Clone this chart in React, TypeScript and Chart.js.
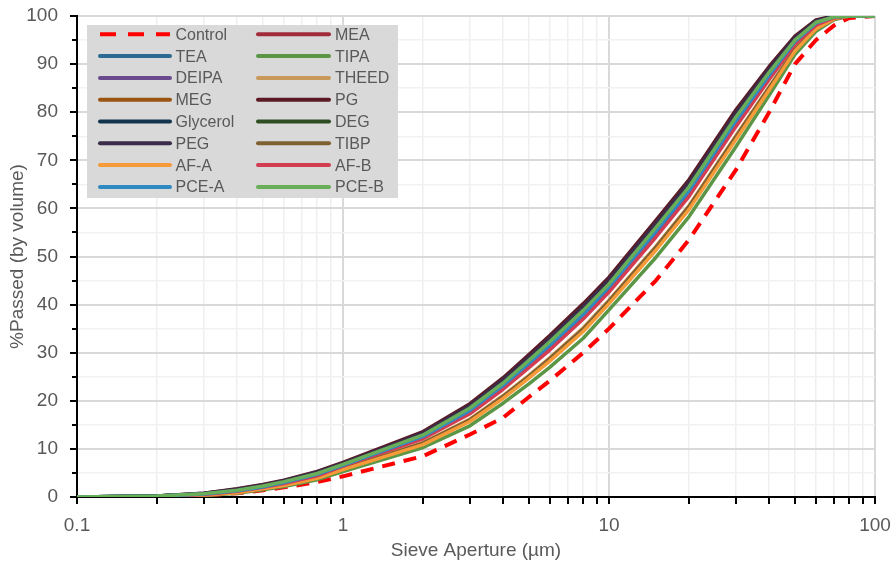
import React, { useEffect, useRef } from "react";
import { Chart, registerables } from "chart.js";

Chart.register(...registerables);

const SIZES = [0.1, 0.2, 0.3, 0.4, 0.5, 0.6, 0.8, 1, 2, 3, 4, 5, 6, 8, 10, 15, 20, 30, 40, 50, 60, 70, 80, 100];

const CONTROL = [0, 0, 0.3, 0.8, 1.4, 2.0, 3.1, 4.3, 8.5, 13.0, 16.5, 20.8, 24.2, 30.0, 35.0, 45.0, 53.5, 68.0, 80.0, 90.0, 95.0, 98.0, 99.6, 100];
const MEA = [0, 0.1, 0.5, 1.2, 2.0, 2.9, 4.5, 6.4, 12.3, 17.6, 22.7, 27.2, 31.0, 37.3, 43.0, 54.4, 62.9, 77.4, 87.1, 94.3, 98.2, 99.7, 100, 100];
const TEA = [0, 0.2, 0.6, 1.3, 2.2, 3.0, 4.7, 6.7, 12.7, 18.1, 23.3, 27.9, 31.8, 38.2, 43.8, 55.3, 63.8, 78.3, 87.8, 94.7, 98.5, 99.8, 100, 100];
const TIPA = [0, 0.05, 0.3, 0.8, 1.5, 2.2, 3.6, 5.3, 10.3, 14.8, 19.5, 23.5, 27.0, 33.0, 38.9, 49.8, 58.3, 72.8, 83.5, 92.0, 96.8, 99.2, 100, 100];
const DEIPA = [0, 0.1, 0.6, 1.3, 2.1, 2.9, 4.6, 6.6, 12.5, 17.8, 23.0, 27.5, 31.4, 37.8, 43.4, 54.9, 63.4, 77.9, 87.5, 94.5, 98.4, 99.7, 100, 100];
const THEED = [0, 0.1, 0.4, 1.0, 1.8, 2.5, 4.1, 5.9, 11.3, 16.2, 21.1, 25.3, 29.0, 35.2, 40.9, 52.1, 60.6, 75.1, 85.3, 93.1, 97.5, 99.4, 100, 100];
const MEG = [0, 0.1, 0.4, 1.0, 1.7, 2.5, 4.0, 5.8, 11.1, 16.0, 20.8, 25.0, 28.7, 34.8, 40.6, 51.7, 60.2, 74.7, 85.0, 92.9, 97.4, 99.4, 100, 100];
const PG = [0, 0.2, 0.8, 1.7, 2.6, 3.5, 5.3, 7.2, 13.6, 19.4, 24.8, 29.6, 33.6, 40.2, 45.7, 57.5, 66.0, 80.5, 89.5, 95.8, 99.2, 100, 100, 100];
const GLYCEROL = [0, 0.2, 0.7, 1.5, 2.4, 3.3, 5.0, 6.9, 13.1, 18.8, 24.1, 28.7, 32.7, 39.2, 44.8, 56.4, 64.9, 79.4, 88.7, 95.3, 98.9, 99.9, 100, 100];
const DEG = [0, 0.2, 0.6, 1.4, 2.3, 3.2, 4.9, 6.9, 13.0, 18.6, 23.9, 28.6, 32.5, 39.0, 44.5, 56.2, 64.7, 79.2, 88.5, 95.2, 98.8, 99.9, 100, 100];
const PEG = [0, 0.2, 0.8, 1.6, 2.5, 3.4, 5.2, 7.0, 13.3, 19.0, 24.4, 29.1, 33.1, 39.6, 45.2, 56.9, 65.4, 79.9, 89.0, 95.5, 99.0, 99.9, 100, 100];
const TIBP = [0, 0.1, 0.4, 1.0, 1.7, 2.5, 4.0, 5.8, 11.2, 16.0, 20.9, 25.1, 28.8, 34.9, 40.7, 51.9, 60.4, 74.9, 85.1, 93.0, 97.4, 99.4, 100, 100];
const AF_A = [0, 0.1, 0.4, 0.9, 1.7, 2.4, 3.9, 5.7, 10.9, 15.7, 20.5, 24.7, 28.3, 34.4, 40.2, 51.3, 59.8, 74.3, 84.6, 92.7, 97.3, 99.4, 100, 100];
const AF_B = [0, 0.1, 0.5, 1.2, 2.0, 2.8, 4.4, 6.4, 12.1, 17.3, 22.4, 26.9, 30.6, 37.0, 42.6, 54.0, 62.5, 77.0, 86.8, 94.1, 98.1, 99.6, 100, 100];
const PCE_A = [0, 0.2, 0.6, 1.3, 2.1, 3.0, 4.7, 6.6, 12.6, 18.0, 23.2, 27.8, 31.6, 38.0, 43.7, 55.2, 63.7, 78.2, 87.7, 94.7, 98.5, 99.8, 100, 100];
const PCE_B = [0, 0.2, 0.7, 1.4, 2.3, 3.2, 4.9, 6.8, 12.9, 18.5, 23.7, 28.4, 32.3, 38.8, 44.3, 56.0, 64.5, 79.0, 88.3, 95.0, 98.7, 99.8, 100, 100];

const NAMES = ["Control", "MEA", "TEA", "TIPA", "DEIPA", "THEED", "MEG", "PG", "Glycerol", "DEG", "PEG", "TIBP", "AF-A", "AF-B", "PCE-A", "PCE-B"];
const VALUES = [CONTROL, MEA, TEA, TIPA, DEIPA, THEED, MEG, PG, GLYCEROL, DEG, PEG, TIBP, AF_A, AF_B, PCE_A, PCE_B];
const COLORS = ["#FF0000", "#A02B3B", "#2C6A93", "#5A9646", "#6A4B8E", "#C9995B", "#9B5412", "#5C1B24", "#12344C", "#2F4E24", "#3B2C49", "#7E6031", "#F79A38", "#D33D52", "#2F89C3", "#69AE59"];

const X_TICKS = [0.1, 0.2, 0.3, 0.4, 0.5, 0.6, 0.7, 0.8, 0.9, 1, 2, 3, 4, 5, 6, 7, 8, 9, 10, 20, 30, 40, 50, 60, 70, 80, 90, 100];
const X_LABELS = [0.1, 1, 10, 100];

const FONT = "'Liberation Sans', Arial, sans-serif";
const TEXT = "#595959";

function isDecade(v: number) {
  return X_LABELS.some((d) => Math.abs(d - v) < 1e-9);
}

function zeroPad(scale: any) {
  scale.paddingTop = 0;
  scale.paddingBottom = 0;
  scale.paddingLeft = 0;
  scale.paddingRight = 0;
}

const decorPlugin = {
  id: "decor",
  afterDraw(chart: any) {
    const ctx = chart.ctx;
    const xs = chart.scales.x;
    const ys = chart.scales.y;
    const area = chart.chartArea;
    ctx.save();
    ctx.strokeStyle = "#000";
    ctx.lineWidth = 2;
    for (let v = 0; v <= 100; v += 5) {
      const y = Math.round(ys.getPixelForValue(v));
      const len = v % 10 === 0 ? 7 : 5;
      ctx.beginPath();
      ctx.moveTo(area.left - len, y);
      ctx.lineTo(area.left, y);
      ctx.stroke();
    }
    for (const v of X_TICKS) {
      const x = Math.round(xs.getPixelForValue(v));
      ctx.beginPath();
      ctx.moveTo(x, area.bottom);
      ctx.lineTo(x, area.bottom + 7);
      ctx.stroke();
    }
    const bx = 87, by = 25, bw = 311, bh = 173;
    ctx.fillStyle = "#D9D9D9";
    ctx.fillRect(bx, by, bw, bh);
    ctx.font = "16px " + FONT;
    ctx.textBaseline = "middle";
    ctx.textAlign = "left";
    NAMES.forEach((name, i) => {
      const col = i % 2;
      const row = Math.floor(i / 2);
      const y = 34.3 + row * 21.8;
      const x0 = col === 0 ? 100 : 258;
      const x1 = col === 0 ? 170 : 329;
      const tx = col === 0 ? 175.5 : 335;
      ctx.strokeStyle = COLORS[i];
      ctx.lineWidth = 4;
      if (i === 0) {
        ctx.lineCap = "butt";
        ctx.setLineDash([16, 12]);
      } else {
        ctx.lineCap = "round";
        ctx.setLineDash([]);
      }
      ctx.beginPath();
      ctx.moveTo(x0, y);
      ctx.lineTo(x1, y);
      ctx.stroke();
      ctx.setLineDash([]);
      ctx.fillStyle = TEXT;
      ctx.fillText(name, tx, y + 1);
    });
    ctx.restore();
  },
};

export default function App() {
  const ref = useRef<HTMLCanvasElement | null>(null);
  useEffect(() => {
    if (!ref.current) return;
    const datasets = NAMES.map((name, i) => ({
      label: name,
      data: SIZES.map((x, j) => ({ x, y: VALUES[i][j] })),
      borderColor: COLORS[i],
      backgroundColor: COLORS[i],
      borderWidth: i === 0 ? 4 : 3.5,
      borderDash: i === 0 ? [13, 9] : [],
      borderCapStyle: i === 0 ? "butt" : "round",
      borderJoinStyle: "round",
      pointRadius: 0,
      tension: 0,
      fill: false,
      order: -i,
    }));
    const chart = new Chart(ref.current, {
      type: "line",
      data: { datasets },
      options: {
        animation: false,
        responsive: false,
        layout: { padding: { left: 0, right: 20, top: 16, bottom: 0 } },
        plugins: { legend: { display: false }, tooltip: { enabled: false } },
        scales: {
          x: {
            type: "logarithmic",
            min: 0.1,
            max: 100,
            afterBuildTicks: (scale: any) => {
              scale.ticks = X_TICKS.map((v) => ({ value: v }));
            },
            afterFit: (scale: any) => {
              scale.height = 75;
              zeroPad(scale);
            },
            ticks: {
              autoSkip: false,
              maxRotation: 0,
              padding: 10,
              color: TEXT,
              font: { family: FONT, size: 19 },
              callback: (v: any) => (isDecade(Number(v)) ? String(Number(v)) : ""),
            },
            grid: {
              color: (c: any) => (c.tick && isDecade(c.tick.value) ? "#D9D9D9" : "#EFEFEF"),
              lineWidth: (c: any) => (c.tick && isDecade(c.tick.value) ? 2 : 1.5),
              drawTicks: true,
              tickLength: 7,
              tickColor: "rgba(0,0,0,0)",
            },
            border: { display: true, color: "#000", width: 2 },
            title: {
              display: true,
              text: "Sieve Aperture (µm)",
              color: TEXT,
              font: { family: FONT, size: 19 },
              padding: { top: 0, bottom: 10 },
            },
          },
          y: {
            type: "linear",
            min: 0,
            max: 100,
            afterFit: (scale: any) => {
              scale.width = 77;
              zeroPad(scale);
            },
            ticks: {
              stepSize: 5,
              autoSkip: false,
              padding: 12,
              color: TEXT,
              font: { family: FONT, size: 19 },
              callback: (v: any) => (Number(v) % 10 === 0 ? String(v) : ""),
            },
            grid: {
              color: (c: any) => (c.tick && c.tick.value % 10 === 0 ? "#D9D9D9" : "#F2F2F2"),
              lineWidth: (c: any) => (c.tick && c.tick.value % 10 === 0 ? 2 : 1.5),
              drawTicks: true,
              tickLength: 7,
              tickColor: "rgba(0,0,0,0)",
            },
            border: { display: true, color: "#000", width: 2 },
            title: {
              display: true,
              text: "%Passed (by volume)",
              color: TEXT,
              font: { family: FONT, size: 19 },
              padding: { top: 6, bottom: 0 },
            },
          },
        },
      },
      plugins: [decorPlugin],
    } as any);
    return () => chart.destroy();
  }, []);
  return (
    <div style={{ position: "fixed", left: 0, top: 0, width: 895, height: 572, background: "#fff" }}>
      <canvas ref={ref} width={895} height={572} style={{ display: "block" }} />
    </div>
  );
}
